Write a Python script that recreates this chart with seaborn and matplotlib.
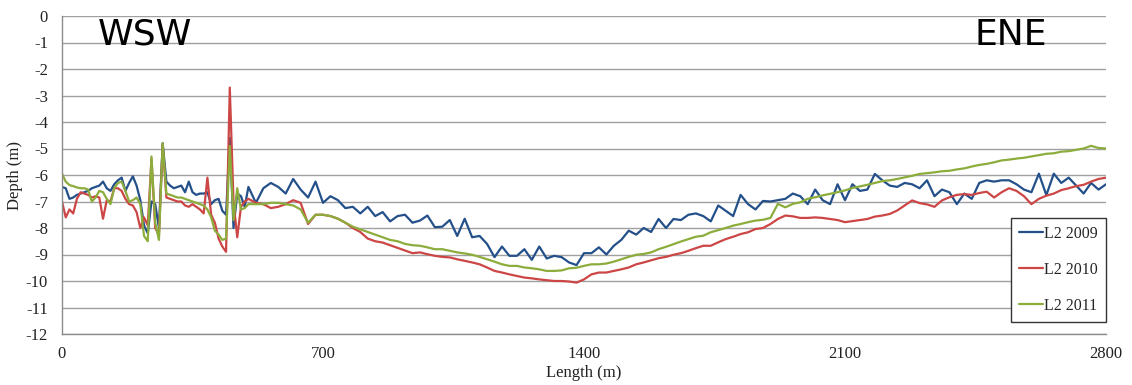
import pandas as pd
import matplotlib
matplotlib.use("Agg")
import matplotlib.pyplot as plt
from matplotlib.lines import Line2D
import seaborn as sns

# sampling positions along the profile (m)
dist = list(range(0, 500, 10)) + list(range(500, 2801, 20))

# depth values (m)
l2_2009 = [
    -6.45, -6.5, -6.9, -6.85, -6.75, -6.7, -6.65, -6.6, -6.5, -6.45,
    -6.4, -6.25, -6.5, -6.6, -6.35, -6.2, -6.1, -6.6, -6.3, -6.05,
    -6.4, -6.95, -7.9, -8.2, -7.0, -7.1, -8.0, -4.8, -6.25, -6.4,
    -6.5, -6.45, -6.4, -6.65, -6.25, -6.65, -6.75, -6.7, -6.7, -6.65,
    -7.1, -6.95, -6.9, -7.35, -7.5, -4.6, -8.0, -6.7, -6.8, -7.2,
    # 500 m onwards, every 20 m
    -6.45, -7.05, -6.5, -6.3, -6.45, -6.7, -6.15, -6.55, -6.85, -6.25,
    -7.05, -6.8, -6.95, -7.25, -7.2, -7.45, -7.2, -7.55, -7.4, -7.75,
    -7.55, -7.5, -7.8, -7.72, -7.53, -7.97, -7.95, -7.7, -8.3, -7.65,
    -8.35, -8.3, -8.6, -9.1, -8.7, -9.05, -9.05, -8.8, -9.2, -8.7,
    -9.15, -9.05, -9.1, -9.3, -9.4, -8.95, -8.95, -8.73, -9.0, -8.67,
    -8.45, -8.1, -8.25, -8.0, -8.15, -7.66, -8.0, -7.66, -7.7, -7.5,
    -7.45, -7.55, -7.75, -7.15, -7.35, -7.55, -6.75, -7.1, -7.3, -6.98,
    -7.0, -6.95, -6.9, -6.7, -6.8, -7.1, -6.55, -6.95, -7.1, -6.35,
    -6.95, -6.35, -6.6, -6.55, -5.96, -6.2, -6.4, -6.45, -6.3, -6.35,
    -6.5, -6.2, -6.8, -6.55, -6.65, -7.1, -6.7, -6.9, -6.3, -6.2,
    -6.25, -6.2, -6.2, -6.35, -6.55, -6.65, -5.95, -6.76, -5.95, -6.3,
    -6.1, -6.4, -6.7, -6.3, -6.55, -6.35,
]

l2_2010 = [
    -7.0, -7.6, -7.3, -7.45, -6.9, -6.65, -6.7, -6.75, -6.85, -6.8,
    -6.85, -7.65, -6.95, -7.0, -6.5, -6.5, -6.6, -6.9, -7.1, -7.15,
    -7.4, -8.0, -7.6, -7.9, -5.4, -8.0, -8.25, -4.85, -6.85, -6.9,
    -6.95, -7.0, -7.0, -7.15, -7.2, -7.1, -7.2, -7.3, -7.45, -6.1,
    -7.5, -7.8, -8.4, -8.7, -8.9, -2.7, -7.0, -8.35, -7.2, -7.0,
    # 500 m onwards, every 20 m
    -6.9, -7.05, -7.1, -7.25, -7.2, -7.1, -6.95, -7.05, -7.85, -7.5,
    -7.5, -7.55, -7.65, -7.8, -8.0, -8.15, -8.4, -8.5, -8.55, -8.65,
    -8.75, -8.85, -8.95, -8.92, -8.99, -9.05, -9.09, -9.11, -9.18, -9.24,
    -9.3, -9.37, -9.49, -9.62, -9.68, -9.75, -9.81, -9.87, -9.9, -9.94,
    -9.97, -10.0, -10.0, -10.02, -10.06, -9.94, -9.75, -9.68, -9.68, -9.62,
    -9.56, -9.49, -9.37, -9.3, -9.22, -9.14, -9.09, -9.01, -8.95, -8.86,
    -8.76, -8.67, -8.67, -8.54, -8.42, -8.33, -8.23, -8.16, -8.04, -8.0,
    -7.85, -7.66, -7.53, -7.56, -7.62, -7.62, -7.6, -7.62, -7.66, -7.7,
    -7.78, -7.74, -7.7, -7.66, -7.57, -7.53, -7.47, -7.34, -7.15, -6.96,
    -7.06, -7.11, -7.2, -6.96, -6.84, -6.75, -6.72, -6.75, -6.68, -6.63,
    -6.85, -6.65, -6.5, -6.6, -6.8, -7.1, -6.9, -6.78, -6.7, -6.57,
    -6.5, -6.42, -6.37, -6.25, -6.15, -6.1,
]

l2_2011 = [
    -5.95, -6.25, -6.38, -6.42, -6.47, -6.5, -6.5, -6.55, -7.0, -6.85,
    -6.6, -6.65, -6.9, -7.1, -6.5, -6.3, -6.25, -6.6, -7.0, -6.95,
    -6.85, -7.1, -8.3, -8.5, -5.3, -7.8, -8.45, -4.8, -6.7, -6.75,
    -6.8, -6.85, -6.85, -6.9, -6.95, -7.0, -7.05, -7.1, -7.15, -7.3,
    -7.6, -8.1, -8.25, -8.45, -8.4, -4.9, -7.7, -6.5, -7.3, -7.25,
    # 500 m onwards, every 20 m
    -7.1, -7.1, -7.1, -7.05, -7.05, -7.1, -7.15, -7.3, -7.8, -7.5,
    -7.5, -7.55, -7.65, -7.8, -7.95, -8.05, -8.15, -8.25, -8.35, -8.45,
    -8.5, -8.6, -8.65, -8.67, -8.73, -8.8, -8.8, -8.86, -8.92, -8.96,
    -9.01, -9.09, -9.18, -9.27, -9.37, -9.43, -9.43, -9.49, -9.52, -9.56,
    -9.62, -9.62, -9.6, -9.52, -9.5, -9.43, -9.37, -9.37, -9.34, -9.27,
    -9.18, -9.09, -9.01, -8.98, -8.92, -8.8, -8.71, -8.61, -8.51, -8.42,
    -8.33, -8.29, -8.16, -8.08, -8.0, -7.91, -7.85, -7.78, -7.72, -7.69,
    -7.62, -7.09, -7.22, -7.09, -7.03, -6.9, -6.84, -6.77, -6.71, -6.65,
    -6.58, -6.49, -6.43, -6.37, -6.3, -6.23, -6.2, -6.15, -6.09, -6.03,
    -5.96, -5.93, -5.9, -5.86, -5.84, -5.79, -5.75, -5.68, -5.62, -5.58,
    -5.52, -5.45, -5.42, -5.38, -5.35, -5.3, -5.25, -5.2, -5.18, -5.12,
    -5.1, -5.05, -5.0, -4.9, -4.98, -5.0,
]

series_names = ["L2 2009", "L2 2010", "L2 2011"]
colors = ["#24508a", "#cc4646", "#8cad3c"]

df = pd.concat([
    pd.DataFrame({"length": dist, "depth": vals, "survey": name})
    for name, vals in zip(series_names, [l2_2009, l2_2010, l2_2011])
])

sns.set_style("white")
plt.rcParams["font.family"] = ["Liberation Serif", "DejaVu Serif"]
plt.rcParams["axes.unicode_minus"] = False

fig = plt.figure(figsize=(11.32, 3.85), dpi=100)
ax = fig.add_axes([62 / 1132, 51 / 385, 1044 / 1132, 318 / 385])

palette = dict(zip(series_names, colors))
sns.lineplot(data=df, x="length", y="depth", hue="survey", palette=palette,
             estimator=None, sort=False, legend=False, linewidth=1.6, ax=ax)

ax.set_xlim(0, 2800)
ax.set_ylim(-12, 0)
ax.set_xticks([0, 700, 1400, 2100, 2800])
ax.set_yticks(range(-12, 1))
ax.grid(axis="y", color="#a0a0a0", linewidth=1.0)
ax.grid(axis="x", visible=False)
ax.set_axisbelow(True)
for s in ["top", "right"]:
    ax.spines[s].set_visible(False)
for s in ["left", "bottom"]:
    ax.spines[s].set_color("#8c8c8c")
    ax.spines[s].set_linewidth(1.0)
ax.tick_params(axis="both", direction="out", length=4, color="#8c8c8c",
               labelsize=12, labelcolor="#222222")
ax.tick_params(axis="y", pad=6)
ax.tick_params(axis="x", pad=5)
ax.set_xlabel("Length (m)", fontsize=12, labelpad=2, color="#222222")
ax.set_ylabel("Depth (m)", fontsize=12, labelpad=2, color="#222222")

# direction labels
ax.text(0.0345, 0.909, "WSW", transform=ax.transAxes, fontsize=26,
        family="DejaVu Sans", va="baseline", ha="left", color="black")
ax.text(0.8745, 0.909, "ENE", transform=ax.transAxes, fontsize=26,
        family="DejaVu Sans", va="baseline", ha="left", color="black")

handles = [Line2D([0], [0], color=c, linewidth=1.6) for c in colors]
leg = ax.legend(handles, series_names, loc="lower right",
                bbox_to_anchor=(1.0, 0.038), borderaxespad=0,
                fontsize=11.5, frameon=True, fancybox=False, framealpha=1,
                edgecolor="#333333", labelspacing=1.25, handlelength=1.5,
                handletextpad=0.1, borderpad=0.5)
leg.get_frame().set_linewidth(1.0)

fig.savefig("out.png", dpi=100)
